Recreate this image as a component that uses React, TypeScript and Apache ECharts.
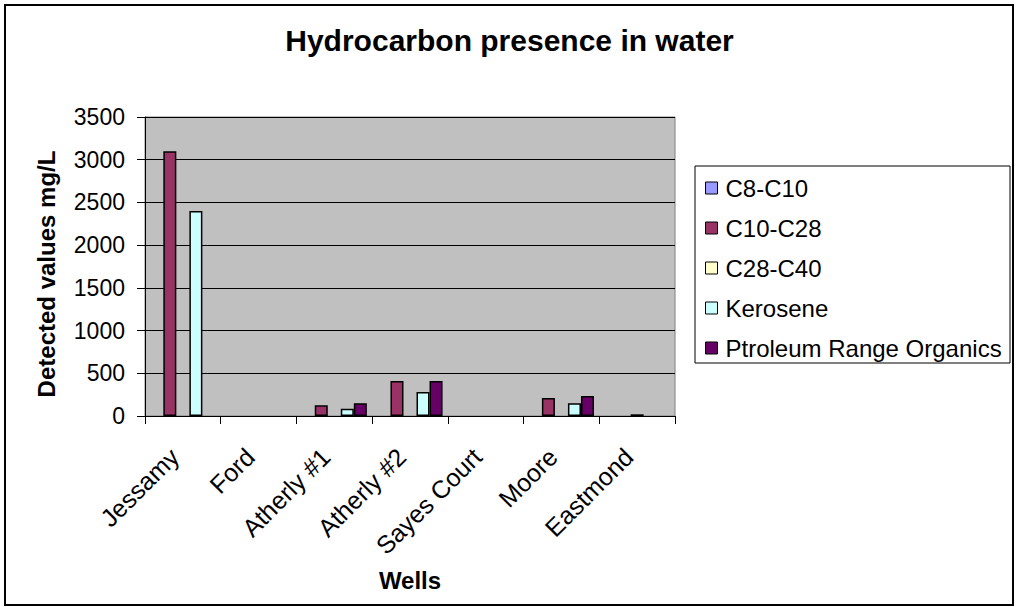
import React, { useEffect, useRef } from "react";
import * as echarts from "echarts";

const categories = ["Jessamy", "Ford", "Atherly #1", "Atherly #2", "Sayes Court", "Moore", "Eastmond"];
const seriesNames = ["C8-C10", "C10-C28", "C28-C40", "Kerosene", "Ptroleum Range Organics"];
const c8c10 = [0, 0, 0, 0, 0, 0, 0];
const c10c28 = [3100, 0, 125, 410, 0, 210, 0];
const c28c40 = [0, 0, 0, 0, 0, 0, 20];
const kerosene = [2400, 0, 85, 280, 0, 150, 0];
const petroleum = [0, 0, 150, 410, 0, 235, 0];
const seriesColors = ["#9999FF", "#993366", "#FFFFCC", "#CCFFFF", "#660066"];
const yTicks = { min: 0, max: 3500, interval: 500 };

const FONT = "Arial, 'Liberation Sans', sans-serif";

export default function App() {
  const ref = useRef<HTMLDivElement>(null);
  useEffect(() => {
    if (!ref.current) return;
    const chart = echarts.init(ref.current, undefined, { renderer: "svg" });
    const data = [c8c10, c10c28, c28c40, kerosene, petroleum];
    chart.setOption({
      animation: false,
      backgroundColor: "#ffffff",
      title: {
        text: "Hydrocarbon presence in water",
        left: "center",
        top: 24,
        padding: 0,
        textStyle: { fontSize: 30, fontWeight: "bold", fontFamily: FONT, color: "#000", lineHeight: 32 },
      },
      grid: {
        left: 145,
        top: 117,
        right: 344,
        bottom: 191,
        show: true,
        backgroundColor: "#C0C0C0",
        borderColor: "#808080",
        borderWidth: 1,
        containLabel: false,
      },
      legend: {
        orient: "vertical",
        left: 705,
        top: 176,
        padding: 0,
        itemWidth: 12,
        itemHeight: 12,
        itemGap: 16,
        icon: "rect",
        itemStyle: { borderColor: "#000", borderWidth: 1 },
        textStyle: { fontSize: 24, fontFamily: FONT, color: "#000", lineHeight: 24, padding: [0, 0, 0, 3] },
        data: seriesNames,
        z: 10,
      },
      xAxis: {
        type: "category",
        data: categories,
        axisLine: { show: true, lineStyle: { color: "#000", width: 1 } },
        axisTick: { show: true, length: 8, interval: 0, lineStyle: { color: "#000", width: 1 } },
        axisLabel: {
          interval: 0,
          rotate: 45,
          margin: 28,
          padding: [0, 12, 0, 0],
          fontSize: 25,
          fontFamily: FONT,
          color: "#000",
        },
        splitLine: { show: false },
      },
      yAxis: {
        type: "value",
        min: yTicks.min,
        max: yTicks.max,
        interval: yTicks.interval,
        axisLine: { show: true, lineStyle: { color: "#000", width: 1 } },
        axisTick: { show: true, length: 8, lineStyle: { color: "#000", width: 1 } },
        axisLabel: {
          margin: 20,
          fontSize: 23,
          fontFamily: FONT,
          color: "#000",
          formatter: (v: number) => String(v),
        },
        splitLine: { show: true, lineStyle: { color: "#000", width: 1 } },
      },
      series: seriesNames.map((name, i) => ({
        name,
        type: "bar",
        data: data[i].map((v) => (v === 0 ? null : v)),
        barGap: "0%",
        barCategoryGap: "14%",
        itemStyle: { color: seriesColors[i], borderColor: "#000", borderWidth: 1.5 },
        emphasis: { disabled: true },
      })),
      graphic: [
        {
          type: "rect",
          z: 1,
          shape: { x: 5, y: 5, width: 1008, height: 600 },
          style: { fill: "none", stroke: "#000", lineWidth: 2 },
          silent: true,
        },
        {
          type: "rect",
          z: 1,
          shape: { x: 695, y: 166, width: 315, height: 197 },
          style: { fill: "#fff", stroke: "#000", lineWidth: 1 },
          silent: true,
        },
        {
          type: "text",
          x: 46,
          y: 274,
          rotation: Math.PI / 2,
          style: {
            text: "Detected values mg/L",
            align: "center",
            verticalAlign: "middle",
            fontSize: 24,
            fontWeight: "bold",
            fontFamily: FONT,
            fill: "#000",
          },
        },
        {
          type: "text",
          x: 410,
          y: 580,
          style: {
            text: "Wells",
            align: "center",
            verticalAlign: "middle",
            fontSize: 24,
            fontWeight: "bold",
            fontFamily: FONT,
            fill: "#000",
          },
        },
      ],
    });
    return () => chart.dispose();
  }, []);
  return (
    <div
      ref={ref}
      style={{ position: "fixed", left: 0, top: 0, width: 1019, height: 607, background: "#fff" }}
    />
  );
}
